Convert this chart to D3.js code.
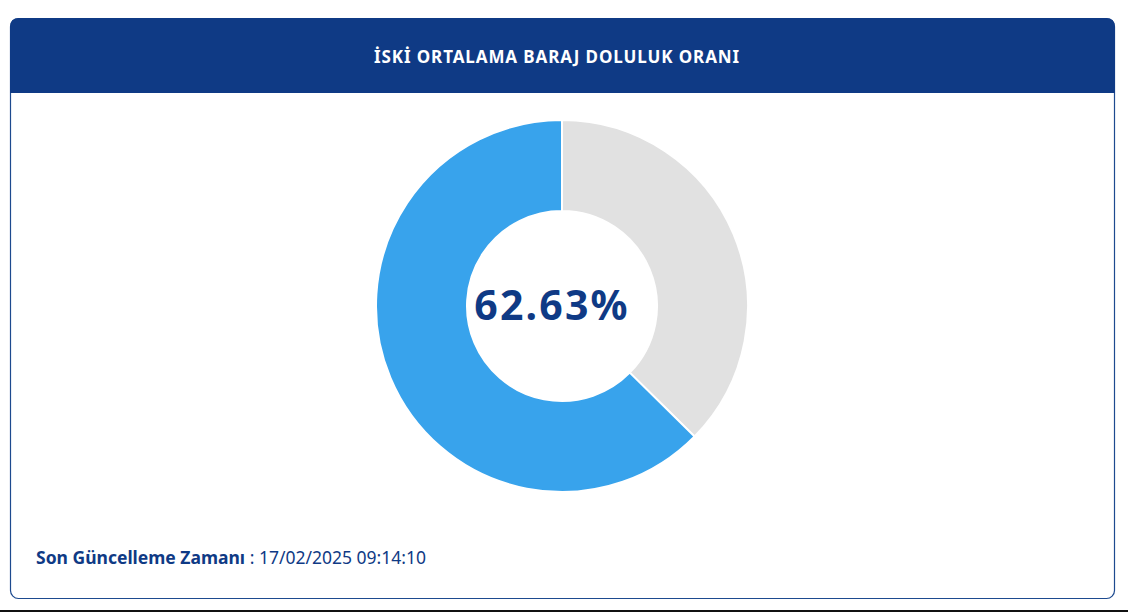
<!DOCTYPE html>
<html><head><meta charset="utf-8">
<script src="https://cdn.jsdelivr.net/npm/d3@7"></script>
<style>
body{margin:0;background:#fff;font-family:"Noto Sans",sans-serif;}
</style></head>
<body>
<svg id="chart" width="1128" height="613"></svg>
<script>
const labels = ["Boş", "Dolu"];
const values = [37.37, 62.63];
const colors = ["#e1e1e1", "#38a3ec"];
const title = "İSKİ ORTALAMA BARAJ DOLULUK ORANI";
const updated = "17/02/2025 09:14:10";

const svg = d3.select("#chart");
const navy = "#0f3a85";

// card
svg.append("rect").attr("x", 10.5).attr("y", 18.5).attr("width", 1104).attr("height", 580)
  .attr("rx", 8).attr("fill", "#fff").attr("stroke", "#1d4a8f").attr("stroke-width", 1.2);
svg.append("path")
  .attr("d", "M10,93 V27 Q10,18 19,18 H1106 Q1115,18 1115,27 V93 Z")
  .attr("fill", navy);
svg.append("text").attr("x", 557).attr("y", 63).attr("text-anchor", "middle")
  .attr("fill", "#fff").attr("font-size", 17).attr("font-weight", 700)
  .attr("letter-spacing", 0.9).text(title);
svg.append("line").attr("x1", 0).attr("x2", 1128).attr("y1", 611).attr("y2", 611)
  .attr("stroke", "#111").attr("stroke-width", 2);

// donut
const g = svg.append("g").attr("transform", "translate(562,306)");
const pie = d3.pie().sort(null).value(d => d);
const arc = d3.arc().innerRadius(95).outerRadius(186);
g.selectAll("path").data(pie(values)).join("path")
  .attr("d", arc).attr("fill", (d, i) => colors[i])
  .attr("stroke", "#fff").attr("stroke-width", 2);
g.append("text").attr("x", -10).attr("text-anchor", "middle").attr("dy", "0.35em")
  .attr("fill", navy).attr("font-size", 41).attr("font-weight", 700)
  .attr("letter-spacing", 2.2)
  .text(values[1].toFixed(2) + "%");

// footer
const f = svg.append("text").attr("x", 36).attr("y", 564).attr("fill", navy)
  .attr("font-size", 17.5);
f.append("tspan").attr("font-weight", 700).text("Son Güncelleme Zamanı");
f.append("tspan").text(" : " + updated);
</script>
</body></html>
